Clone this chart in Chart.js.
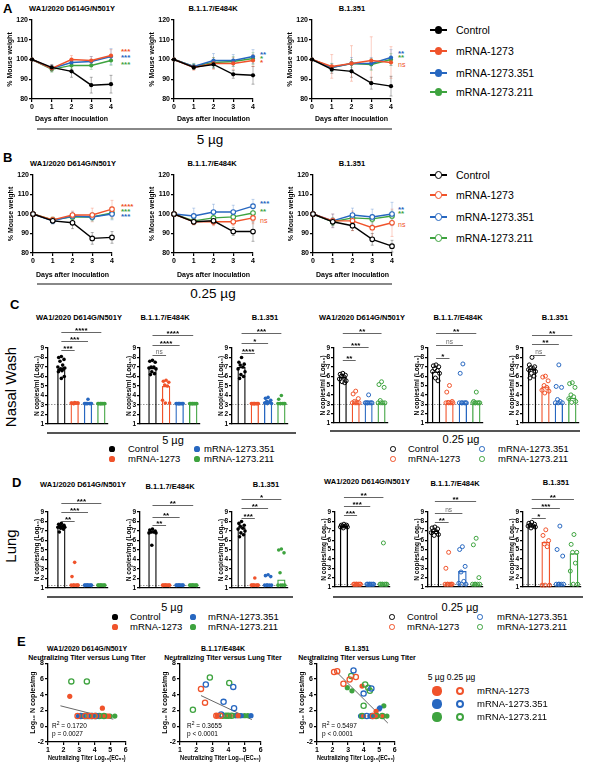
<!DOCTYPE html>
<html>
<head>
<meta charset="utf-8">
<title>Weight loss and viral load after challenge</title>
<script src="https://cdn.jsdelivr.net/npm/chart.js@4.4.0/dist/chart.umd.min.js"></script>
<style>
  html, body { margin: 0; padding: 0; background: #fff; }
  #fig { position: relative; width: 589px; height: 765px; overflow: hidden;
         font-family: 'Liberation Sans', Arial, Helvetica, sans-serif; color: #000; }
  #fig canvas { position: absolute; }
  .t { position: absolute; white-space: nowrap; line-height: 1; }
  .rule { position: absolute; }
  .dot { position: absolute; border-radius: 50%; box-sizing: border-box; }
</style>
</head>
<body>
<div id="fig"></div>
<script>
const FONT = "'Liberation Sans', Arial, Helvetica, sans-serif";
const RED = '#f0532b', BLUE = '#2767c0', GREEN = '#3ea33f', BLACK = '#000000';
const COLORS = [BLACK, RED, BLUE, GREEN];

// ---------- data ----------
const groups = ['Control', 'mRNA-1273', 'mRNA-1273.351', 'mRNA-1273.211'];
const days = [0, 1, 2, 3, 4];
const weightTicks = [80, 90, 100, 110, 120];
const copyTicks = [1, 2, 3, 4, 5, 6, 7, 8, 9];
const titerTicks = [1, 2, 3, 4, 5, 6];
const lungTicks = [-2, 0, 2, 4, 6, 8];

// A: % mouse weight, 5 µg (rows: Control, 1273, 1273.351, 1273.211)
const wA_WA1 = [[100, 96, 94, 87, 87.5], [100, 95.5, 100, 99.5, 102], [100, 95.5, 98.5, 99, 101.5], [100, 95, 97, 97, 99.5]];
const sdA_WA1 = [[0, 1.5, 3, 4, 4.5], [0, 1.5, 2, 2, 3], [0, 1.5, 2, 2.5, 4], [0, 1.5, 1.5, 2, 2.5]];
const wA_B117 = [[100, 96, 97.5, 92.5, 92], [100, 96, 98, 98, 99.5], [100, 96.5, 99.5, 99.5, 101.5], [100, 96.5, 98.5, 99, 100.5]];
const sdA_B117 = [[0, 1, 2, 2, 4.5], [0, 1.5, 3, 3, 3], [0, 1.5, 3.5, 3, 3.5], [0, 1.5, 2.5, 2.5, 3]];
const wA_B1351 = [[100, 95, 94, 88, 86.5], [100, 96.5, 98, 99.5, 98.5], [100, 96, 98, 98, 101], [100, 96, 98, 97.5, 100]];
const sdA_B1351 = [[0, 2, 3, 3, 5], [0, 6, 9, 12, 8], [0, 2, 3, 3, 4], [0, 2, 2, 3, 3]];

// B: % mouse weight, 0.25 µg
const wB_WA1 = [[100, 96.5, 95.5, 87.5, 88], [100, 97, 99.5, 99.5, 102.5], [100, 96.5, 99, 98.5, 100], [100, 97, 98.5, 98.5, 100.5]];
const sdB_WA1 = [[0, 1.5, 3, 3, 3], [0, 1.5, 2, 3.5, 4.5], [0, 1.5, 2, 2, 3], [0, 1.5, 2, 2, 3]];
const wB_B117 = [[100, 96, 96.5, 91, 91], [100, 96, 96, 96, 98], [100, 99, 101, 101, 104], [100, 96.5, 98, 98.5, 100.5]];
const sdB_B117 = [[0, 1.5, 2, 2, 5], [0, 1.5, 2, 2, 3], [0, 4, 4, 3.5, 3.5], [0, 1.5, 2, 2, 2.5]];
const wB_B1351 = [[100, 96, 94, 87, 83.5], [100, 96.5, 96.5, 93, 95.5], [100, 96.5, 99.5, 98.5, 100], [100, 96, 98, 97.5, 99]];
const sdB_B1351 = [[0, 2, 2.5, 3, 3], [0, 3.5, 5, 6, 7], [0, 3.5, 3.5, 4, 6], [0, 2, 2, 2, 2.5]];

// significance vs control, listed for [1273, 1273.351, 1273.211]
const starsA = [['***', '***', '***'], ['*', '**', '*'], ['ns', '**', '**']];
const starsB = [['****', '***', '***'], ['ns', '***', '**'], ['ns', '**', '**']];

// C: nasal wash, log10 N copies/ml — bar heights and individual animals
const cBar_WA1_5 = [6.8, 3.2, 3.15, 3.1];
const cPts_WA1_5 = [[8.1, 8.0, 7.8, 7.6, 7.2, 7.0, 6.9, 6.8, 6.8, 6.7, 6.6, 6.5, 6.0, 5.8], [3.25, 3.2, 3.2, 3.15, 3.2, 3.2, 3.2, 3.15], [3.6, 3.15, 3.15, 3.15, 3.15, 3.15, 3.15, 3.15], [3.15, 3.15, 3.15, 3.15, 3.15, 3.15, 3.15, 3.15]];
const cBar_B117_5 = [6.9, 5.0, 3.1, 3.1];
const cPts_B117_5 = [[7.7, 7.6, 7.5, 7.0, 7.0, 6.9, 6.8, 6.5, 6.3, 6.2], [5.6, 5.5, 5.4, 5.1, 5.0, 3.5, 3.2, 3.2], [3.15, 3.15, 3.15, 3.15, 3.15, 3.15, 3.15, 3.15], [3.15, 3.15, 3.15, 3.15, 3.15, 3.15, 3.15, 3.15]];
const cBar_B1351_5 = [7.0, 3.1, 3.4, 3.2];
const cPts_B1351_5 = [[8.0, 7.5, 7.3, 7.2, 7.0, 6.8, 6.5, 6.2, 6.0, 5.8], [3.15, 3.15, 3.15, 3.15, 3.15, 3.15, 3.15, 3.15], [3.8, 3.7, 3.5, 3.4, 3.3, 3.2, 3.15, 3.15], [4.0, 3.6, 3.15, 3.15, 3.15, 3.15, 3.15, 3.15]];
const cBar_WA1_025 = [5.9, 3.2, 3.1, 3.2];
const cPts_WA1_025 = [[6.3, 6.2, 6.1, 6.0, 5.9, 5.7, 5.5, 5.4, 5.3], [4.4, 4.1, 3.6, 3.3, 3.15, 3.15, 3.15, 3.15], [4.0, 3.15, 3.15, 3.15, 3.15, 3.15, 3.15, 3.15], [5.4, 5.1, 4.8, 3.4, 3.15, 3.15, 3.15, 3.15]];
const cBar_B117_025 = [6.5, 3.1, 3.1, 3.1];
const cPts_B117_025 = [[7.2, 7.1, 7.0, 6.8, 6.6, 6.5, 6.3, 5.8, 5.5], [5.0, 4.3, 3.3, 3.2, 3.15, 3.15, 3.15, 3.15], [7.3, 6.3, 3.15, 3.15, 3.15, 3.15, 3.15, 3.15], [4.3, 3.3, 3.15, 3.15, 3.15, 3.15, 3.15, 3.15]];
const cBar_B1351_025 = [6.8, 4.9, 3.1, 3.7];
const cPts_B1351_025 = [[8.0, 7.2, 7.0, 6.9, 6.8, 6.7, 6.5, 6.3, 6.0, 5.8], [6.0, 5.9, 5.5, 5.0, 4.8, 4.5, 4.4, 4.2], [7.2, 4.9, 4.8, 3.5, 3.3, 3.15, 3.15, 3.15], [5.3, 5.2, 4.8, 4.0, 3.8, 3.6, 3.3, 3.2]];
const starsC = [['***', '***', '****'], ['ns', '****', '****'], ['****', '*', '***'], ['**', '***', '**'], ['*', 'ns', '**'], ['ns', '**', '**']];

// D: lung, log10 N copies/mg
const dBar_WA1_5 = [7.5, 1.3, 1.3, 1.3];
const dPts_WA1_5 = [[7.8, 7.7, 7.6, 7.5, 7.5, 7.4, 7.4, 7.3, 7.2, 6.9], [3.7, 2.2, 1.3, 1.3, 1.3, 1.3, 1.3, 1.3], [1.3, 1.3, 1.3, 1.3, 1.3, 1.3, 1.3, 1.3], [1.3, 1.3, 1.3, 1.3, 1.3, 1.3, 1.3, 1.3]];
const dBar_B117_5 = [6.9, 1.3, 1.3, 1.3];
const dPts_B117_5 = [[7.2, 7.1, 7.0, 6.9, 6.9, 6.8, 6.8, 5.5], [1.3, 1.3, 1.3, 1.3, 1.3, 1.3, 1.3, 1.3], [1.3, 1.3, 1.3, 1.3, 1.3, 1.3, 1.3, 1.3], [1.3, 1.3, 1.3, 1.3, 1.3, 1.3, 1.3, 1.3]];
const dBar_B1351_5 = [7.4, 1.3, 1.3, 1.9];
const dPts_B1351_5 = [[8.0, 7.8, 7.6, 7.5, 7.3, 7.2, 7.0, 6.8, 6.6, 6.4], [2.05, 1.3, 1.3, 1.3, 1.3, 1.3, 1.3, 1.3], [2.4, 2.3, 2.2, 1.3, 1.3, 1.3, 1.3, 1.3], [5.1, 5.0, 4.7, 2.6, 1.3, 1.3, 1.3, 1.3]];
const dBar_WA1_025 = [7.5, 1.3, 1.3, 1.3];
const dPts_WA1_025 = [[7.7, 7.6, 7.6, 7.5, 7.5, 7.4, 7.4, 7.3], [1.3, 1.3, 1.3, 1.3, 1.3, 1.3, 1.3, 1.3], [1.3, 1.3, 1.3, 1.3, 1.3, 1.3, 1.3, 1.3], [5.7, 1.3, 1.3, 1.3, 1.3, 1.3, 1.3, 1.3]];
const dBar_B117_025 = [7.0, 1.4, 2.7, 1.3];
const dPts_B117_025 = [[7.4, 7.3, 7.2, 7.0, 6.9, 6.8, 6.6, 6.5], [4.7, 3.0, 1.3, 1.3, 1.3, 1.3, 1.3, 1.3], [5.3, 5.0, 3.2, 2.6, 1.6, 1.4, 1.3, 1.3], [6.2, 5.5, 2.0, 1.3, 1.3, 1.3, 1.3, 1.3]];
const dBar_B1351_025 = [7.6, 5.8, 1.3, 4.6];
const dPts_B1351_025 = [[7.9, 7.8, 7.7, 7.6, 7.5, 7.5, 7.4, 7.3], [7.1, 6.5, 5.95, 5.6, 5.3, 1.2, 1.2, 1.2], [7.5, 5.0, 4.3, 1.3, 1.3, 1.3, 1.3, 1.3], [6.6, 5.55, 4.7, 4.7, 3.55, 2.7, 1.3, 1.3]];
const starsD = [['**', '***', '***'], ['**', '**', '**'], ['***', '**', '*'], ['***', '***', '**'], ['**', 'ns', '**'], ['*', '***', '**']];

// E: neutralizing titer log10(EC50) vs lung titer, [x, y]; rows 1273, 1273.351, 1273.211
const eWA1_5 = [
  [[2.4, 3.8], [4.5, 2.3], [4.3, 1.3], [4.6, 1.3], [4.8, 1.3], [4.9, 1.3]],
  [[2.95, 1.3], [3.05, 1.3], [3.15, 1.3], [3.25, 1.3], [4.2, 1.3], [4.4, 1.3]],
  [[3.9, 1.3], [4.7, 1.3], [5.0, 1.3], [5.3, 1.3]]];
const eWA1_025 = [
  [[2.9, 1.3], [3.4, 1.3], [3.7, 1.3], [4.0, 1.3]],
  [[3.1, 1.3], [3.5, 1.3], [3.8, 1.3], [4.1, 1.3]],
  [[2.5, 5.7], [3.5, 5.7], [3.35, 1.3], [3.6, 1.3], [3.85, 1.3], [4.05, 1.3], [4.3, 1.3], [4.6, 1.3]]];
const eWA1_fit = [[1.8, 2.6], [5.2, 0.9]];
const eB117_5 = [
  [[3.3, 1.35], [3.9, 1.35], [4.1, 1.35], [4.6, 1.35]],
  [[4.5, 1.35], [4.8, 1.35], [5.4, 1.35]],
  [[4.4, 1.35], [4.7, 1.35], [5.0, 1.35], [5.2, 1.35]]];
const eB117_025 = [
  [[2.3, 4.75], [2.55, 3.0], [3.25, 1.35], [3.5, 1.35]],
  [[2.6, 5.3], [4.3, 5.0], [3.7, 3.1], [4.35, 2.3], [3.55, 1.5]],
  [[2.85, 6.2], [4.05, 5.5], [1.8, 2.1], [3.65, 1.35], [3.85, 1.35], [4.0, 1.35], [4.2, 1.35]]];
const eB117_fit = [[2.3, 3.9], [5.45, 0.85]];
const eB1351_5 = [
  [[3.9, 5.1], [4.8, 1.9], [4.0, 1.3], [4.9, 1.3], [5.25, 1.3]],
  [[5.05, 2.35], [5.0, 2.2], [3.8, 1.3], [4.4, 1.3], [4.7, 1.3]],
  [[2.95, 4.9], [3.25, 4.5], [5.3, 2.6], [4.5, 1.3], [5.5, 1.3]]];
const eB1351_025 = [
  [[2.1, 6.9], [2.3, 7.0], [2.7, 5.4], [3.1, 5.95], [3.5, 6.25], [4.6, 1.3]],
  [[3.35, 7.1], [4.5, 4.8], [4.0, 4.15], [4.2, 1.3], [4.55, 1.3]],
  [[3.2, 6.4], [4.1, 5.3], [4.3, 4.9], [4.4, 4.5], [4.0, 2.6], [3.9, 1.3], [4.8, 1.3], [5.2, 1.3]]];
const eB1351_fit = [[2.2, 7.0], [5.56, 0.4]];
const fitStats = [['0.1720', 'p = 0.0027'], ['0.3655', 'p < 0.0001'], ['0.5497', 'p < 0.0001']];

// ---------- helpers ----------
const fig = document.getElementById('fig');
// horizontal spread of animals inside a bar (layout only)
const spread = [0, -0.2, 0.2, -0.1, 0.1, -0.26, 0.26, -0.05, 0.15, -0.15, 0.05, -0.22, 0.22, 0.0];

function fade(hex, a) {
  const n = parseInt(hex.slice(1), 16);
  return `rgba(${(n >> 16) & 255},${(n >> 8) & 255},${n & 255},${a})`;
}

function put(html, x, y, o = {}) {
  const d = document.createElement('div');
  d.className = 't';
  d.innerHTML = html;
  d.style.left = x + 'px';
  d.style.top = y + 'px';
  d.style.fontSize = (o.size || 7) + 'px';
  if (o.bold) d.style.fontWeight = 'bold';
  if (o.color) d.style.color = o.color;
  const ax = o.align === 'left' ? '0' : '-50%';
  d.style.transform = `translate(${ax}, -50%)` + (o.rot ? ' rotate(-90deg)' : '');
  fig.appendChild(d);
}

function rule(x1, x2, y, w, color) {
  const d = document.createElement('div');
  d.className = 'rule';
  Object.assign(d.style, { left: x1 + 'px', top: (y - w / 2) + 'px', width: (x2 - x1) + 'px', height: w + 'px', background: color });
  fig.appendChild(d);
}

function marker(x, y, r, color, open, bw) {
  const d = document.createElement('div');
  d.className = 'dot';
  Object.assign(d.style, { left: (x - r) + 'px', top: (y - r) + 'px', width: 2 * r + 'px', height: 2 * r + 'px',
    background: open ? '#fff' : color, border: open ? `${bw}px solid ${color}` : 'none' });
  fig.appendChild(d);
}

// box = [left, top, right, bottom] of the plot area in page pixels
function mount(box, m) {
  const cv = document.createElement('canvas');
  const w = box[2] - box[0] + m.l + m.r, h = box[3] - box[1] + m.t + m.b;
  cv.width = w; cv.height = h;
  Object.assign(cv.style, { left: (box[0] - m.l) + 'px', top: (box[1] - m.t) + 'px', width: w + 'px', height: h + 'px' });
  fig.appendChild(cv);
  return cv;
}

function axis(min, max, ticks, size, title, dim, o = {}) {
  return {
    type: 'linear', min, max,
    afterBuildTicks: s => { s.ticks = ticks.map(v => ({ value: v })); },
    afterFit: s => {
      if (dim === 'w') s.width = size; else s.height = size;
      s.paddingLeft = s.paddingRight = s.paddingTop = s.paddingBottom = 0;
    },
    border: { display: true, color: '#000', width: 1.3 },
    grid: { display: ticks.length > 0, drawOnChartArea: false, drawTicks: true, tickLength: 3, color: '#000', lineWidth: 1.2 },
    ticks: { display: ticks.length > 0, color: '#000', padding: 1, autoSkip: false, maxRotation: 0,
             font: { family: FONT, size: o.tickSize || 7, weight: 'bold' } },
    title: { display: !!title, text: title, color: '#000', padding: 0,
             font: { family: FONT, size: o.titleSize || 7, weight: 'bold' } }
  };
}

function baseOptions(m, scales) {
  return {
    responsive: false, animation: false, devicePixelRatio: 1, events: [],
    layout: { padding: { left: 0, top: m.t, right: m.r, bottom: 0 } },
    plugins: { legend: { display: false }, tooltip: { enabled: false } },
    scales
  };
}

const errorBars = {
  id: 'errorBars',
  beforeDatasetsDraw(chart) {
    const { ctx } = chart, y = chart.scales.y;
    chart.data.datasets.forEach((ds, i) => {
      if (!ds.sd) return;
      const meta = chart.getDatasetMeta(i);
      ctx.save();
      ctx.strokeStyle = ds.errColor;
      ctx.lineWidth = 1;
      meta.data.forEach((pt, j) => {
        const e = ds.sd[j];
        if (!e) return;
        const v = ds.data[j].y;
        const y1 = y.getPixelForValue(v + e), y2 = y.getPixelForValue(v - e);
        ctx.beginPath();
        ctx.moveTo(pt.x, y1); ctx.lineTo(pt.x, y2);
        ctx.moveTo(pt.x - 1.5, y1); ctx.lineTo(pt.x + 1.5, y1);
        ctx.moveTo(pt.x - 1.5, y2); ctx.lineTo(pt.x + 1.5, y2);
        ctx.stroke();
      });
      ctx.restore();
    });
  }
};

function lodLine(level) {
  return {
    id: 'lod',
    beforeDatasetsDraw(chart) {
      const { ctx, chartArea } = chart;
      const yy = Math.round(chart.scales.y.getPixelForValue(level)) + 0.5;
      ctx.save();
      ctx.strokeStyle = '#777';
      ctx.lineWidth = 0.8;
      ctx.setLineDash([1.5, 1.5]);
      ctx.beginPath();
      ctx.moveTo(chartArea.left, yy); ctx.lineTo(chartArea.right, yy);
      ctx.stroke();
      ctx.restore();
    }
  };
}

function sigBars(labels, levels) {
  return {
    id: 'sig',
    afterDraw(chart) {
      const { ctx } = chart, { x, y } = chart.scales;
      ctx.save();
      labels.forEach((lab, k) => {
        const x0 = x.getPixelForValue(0), x1 = x.getPixelForValue(k + 1);
        const yy = Math.round(y.getPixelForValue(levels[k])) + 0.5;
        ctx.strokeStyle = '#666';
        ctx.lineWidth = 1;
        ctx.beginPath(); ctx.moveTo(x0, yy); ctx.lineTo(x1, yy); ctx.stroke();
        const ns = lab === 'ns';
        ctx.fillStyle = ns ? '#666' : '#000';
        ctx.font = ns ? `6.5px ${FONT}` : `bold 8px ${FONT}`;
        ctx.textAlign = 'center';
        ctx.textBaseline = 'alphabetic';
        ctx.fillText(lab, (x0 + x1) / 2, yy - (ns ? 1.5 : 0));
      });
      ctx.restore();
    }
  };
}

function lineChart(box, series, sds, open, mb) {
  const m = { l: 26, t: 6, r: 6, b: mb };
  const cv = mount(box, m);
  const datasets = series.map((vals, g) => ({
    data: vals.map((v, j) => ({ x: days[j], y: v })),
    sd: sds[g],
    errColor: fade(COLORS[g], g === 0 ? 0.3 : 0.28),
    borderColor: COLORS[g],
    backgroundColor: COLORS[g],
    pointBackgroundColor: open ? '#fff' : COLORS[g],
    pointBorderColor: COLORS[g],
    pointBorderWidth: open ? 1.1 : 0,
    pointRadius: open ? 2.3 : 2.1,
    borderWidth: 1.4,
    tension: 0,
    clip: false
  }));
  new Chart(cv, {
    type: 'line',
    data: { datasets },
    options: baseOptions(m, {
      x: axis(0, 4, days, m.b, 'Days after inoculation', 'h'),
      y: axis(80, 120, weightTicks, m.l, '% Mouse weight', 'w')
    }),
    plugins: [errorBars]
  });
}

function barChart(box, xmin, bars, pts, open, labels, levels, unit, lod) {
  const m = { l: 15, t: 26, r: 4, b: 2 };
  const cv = mount(box, m);
  const datasets = [{
    type: 'bar', order: 2, base: 1,
    data: bars.map((v, i) => ({ x: i, y: v })),
    backgroundColor: 'rgba(255,255,255,0)',
    borderColor: COLORS, borderWidth: 1.3,
    barPercentage: 0.62, categoryPercentage: 1
  }];
  pts.forEach((vals, g) => datasets.push({
    type: 'scatter', order: 1, clip: false,
    data: vals.map((v, k) => ({ x: g + spread[k % spread.length], y: v })),
    pointRadius: open ? 2 : 1.8,
    pointBackgroundColor: open ? 'rgba(255,255,255,0)' : COLORS[g],
    pointBorderColor: COLORS[g],
    pointBorderWidth: open ? 1 : 0
  }));
  new Chart(cv, {
    type: 'bar',
    data: { datasets },
    options: baseOptions(m, {
      x: axis(xmin, 3.5, [], m.b, '', 'h'),
      y: axis(1, 9, copyTicks, m.l, unit, 'w', { tickSize: 6.5, titleSize: 6.5 })
    }),
    plugins: [lodLine(lod), sigBars(labels, levels)]
  });
}

function pointSet(pts, color, open, order) {
  return {
    type: 'scatter', order, clip: false,
    data: pts.map(([x, y]) => ({ x, y })),
    pointRadius: 2.6,
    pointBackgroundColor: open ? 'rgba(255,255,255,0)' : color,
    pointBorderColor: color,
    pointBorderWidth: open ? 1.3 : 0
  };
}

function titerChart(box, filled, open, fit) {
  const m = { l: 19, t: 4, r: 4, b: 20 };
  const cv = mount(box, m);
  const datasets = [{
    type: 'line', order: 3, clip: false,
    data: fit.map(([x, y]) => ({ x, y })),
    borderColor: '#666', borderWidth: 1, pointRadius: 0
  }];
  filled.forEach((p, g) => datasets.push(pointSet(p, COLORS[g + 1], false, 2)));
  open.forEach((p, g) => datasets.push(pointSet(p, COLORS[g + 1], true, 1)));
  new Chart(cv, {
    type: 'scatter',
    data: { datasets },
    options: baseOptions(m, {
      x: axis(1, 6, titerTicks, m.b, 'Neutralizing Titer Log\u2081\u2080(EC\u2085\u2080)', 'h'),
      y: axis(-2, 8, lungTicks, m.l, 'Log\u2081\u2080 N copies/mg', 'w')
    })
  });
}

function weightLegend(ys, open) {
  groups.forEach((g, i) => {
    rule(430, 447, ys[i], 1.6, COLORS[i]);
    marker(438.5, ys[i], 3.6, COLORS[i], open, 1.5);
    put(g, 456, ys[i], { size: 10.5, align: 'left' });
  });
}

function dotLegend(y1, y2, dotX, textX, blueX, blueTextX, open) {
  const rows = [[dotX, textX, y1], [dotX, textX, y2], [blueX, blueTextX, y1], [blueX, blueTextX, y2]];
  groups.forEach((g, i) => {
    const [mx, tx, y] = rows[i];
    marker(mx, y, open ? 2.8 : 2.6, COLORS[i], open, 1.6);
    put(g, tx, y, { size: 9.5, align: 'left' });
  });
}

// ---------- panel A ----------
put('A', 3, 8, { size: 13, bold: true, align: 'left' });
put('WA1/2020 D614G/N501Y', 72, 9, { size: 7.5, bold: true });
put('B.1.1.7/E484K', 213, 9, { size: 7.5, bold: true });
put('B.1.351', 352, 9, { size: 7.5, bold: true });
lineChart([32, 20, 111, 99], wA_WA1, sdA_WA1, false, 24);
lineChart([174, 20, 253, 99], wA_B117, sdA_B117, false, 24);
lineChart([312, 20, 391, 99], wA_B1351, sdA_B1351, false, 24);
const starRowsA = [[121, [51, 57, 64]], [260, [62, 54, 58]], [398, [63, 53, 57]]];
starRowsA.forEach(([x, ys], c) => starsA[c].forEach((s, k) =>
  put(s, x, ys[k] + 1, { size: s === 'ns' ? 7 : 8, bold: s !== 'ns', color: COLORS[k + 1], align: 'left' })));
weightLegend([30, 51, 73, 92], false);
rule(37, 392, 129, 2, '#888');
put('5 µg', 210, 140, { size: 13.5 });

// ---------- panel B ----------
put('B', 3, 157, { size: 13, bold: true, align: 'left' });
put('WA1/2020 D614G/N501Y', 73, 164, { size: 7.5, bold: true });
put('B.1.1.7/E484K', 212, 164, { size: 7.5, bold: true });
put('B.1.351', 352, 164, { size: 7.5, bold: true });
lineChart([33, 175, 112, 253], wB_WA1, sdB_WA1, true, 26);
lineChart([174, 175, 253, 253], wB_B117, sdB_B117, true, 26);
lineChart([313, 175, 392, 253], wB_B1351, sdB_B1351, true, 26);
const starRowsB = [[121, [206, 216, 211]], [260, [219, 203, 211]], [398, [223, 209, 213]]];
starRowsB.forEach(([x, ys], c) => starsB[c].forEach((s, k) =>
  put(s, x, ys[k] + 1, { size: s === 'ns' ? 7 : 8, bold: s !== 'ns', color: COLORS[k + 1], align: 'left' })));
weightLegend([175, 195, 217, 238], true);
rule(37, 392, 284, 2, '#888');
put('0.25 µg', 213, 294, { size: 13.5 });

// ---------- panel C ----------
put('C', 10, 304, { size: 13, bold: true, align: 'left' });
put('Nasal Wash', 10, 387, { size: 15, rot: true });
const nasal = 'N copies/ml (Log\u2081\u2080)';
[[79, 'WA1/2020 D614G/N501Y'], [165, 'B.1.1.7/E484K'], [265, 'B.1.351'],
 [362, 'WA1/2020 D614G/N501Y'], [458, 'B.1.1.7/E484K'], [555, 'B.1.351']]
  .forEach(([x, s]) => put(s, x, 318, { size: 7.5, bold: true }));
barChart([48, 348, 108, 426], -1.0, cBar_WA1_5, cPts_WA1_5, false, starsC[0], [8.79, 9.72, 10.64], nasal, 3.08);
barChart([140, 348, 200, 426], -0.92, cBar_B117_5, cPts_B117_5, false, starsC[1], [8.28, 9.31, 10.33], nasal, 3.08);
barChart([232, 348, 288, 426], -0.72, cBar_B1351_5, cPts_B1351_5, false, starsC[2], [8.49, 9.51, 10.54], nasal, 3.08);
barChart([334, 348, 389, 426], -0.68, cBar_WA1_025, cPts_WA1_025, true, starsC[3], [7.67, 9.1, 10.64], nasal, 3.08);
barChart([428, 348, 484, 426], -0.6, cBar_B117_025, cPts_B117_025, true, starsC[4], [7.97, 9.31, 10.64], nasal, 3.08);
barChart([523, 348, 580, 426], -0.67, cBar_B1351_025, cPts_B1351_025, true, starsC[5], [8.28, 9.41, 10.44], nasal, 3.08);
rule(47, 296, 433, 1.5, '#555');
put('5 µg', 173, 440, { size: 11 });
rule(330, 580, 431, 1.5, '#555');
put('0.25 µg', 461, 439, { size: 11 });
dotLegend(449, 459, 112, 128, 197, 204, false);
dotLegend(449, 459, 393, 408, 482, 498, true);

// ---------- panel D ----------
put('D', 12, 482, { size: 13, bold: true, align: 'left' });
put('Lung', 10, 546, { size: 15, rot: true });
const lung = 'N copies/mg (Log\u2081\u2080)';
[[83, 485, 'WA1/2020 D614G/N501Y'], [170, 487, 'B.1.1.7/E484K'], [266, 485, 'B.1.351'],
 [367, 482, 'WA1/2020 D614G/N501Y'], [455, 484, 'B.1.1.7/E484K'], [556, 483, 'B.1.351']]
  .forEach(([x, y, s]) => put(s, x, y, { size: 7.5, bold: true }));
barChart([48, 512, 108, 590], -1.0, dBar_WA1_5, dPts_WA1_5, false, starsD[0], [8.08, 9.0, 9.92], lung, 1.28);
barChart([140, 512, 200, 590], -0.92, dBar_B117_5, dPts_B117_5, false, starsD[1], [7.67, 8.49, 9.72], lung, 1.28);
barChart([232, 512, 288, 590], -0.72, dBar_B1351_5, dPts_B1351_5, false, starsD[2], [8.38, 9.41, 10.33], lung, 1.28);
barChart([335, 512, 391, 590], -0.68, dBar_WA1_025, dPts_WA1_025, true, starsD[3], [8.69, 9.62, 10.64], lung, 1.28);
barChart([428, 512, 484, 590], -0.5, dBar_B117_025, dPts_B117_025, true, starsD[4], [7.97, 8.9, 10.13], lung, 1.28);
barChart([523, 512, 582, 590], -0.62, dBar_B1351_025, dPts_B1351_025, true, starsD[5], [8.38, 9.41, 10.44], lung, 1.28);
rule(47, 293, 597, 1.5, '#555');
put('5 µg', 172, 607, { size: 11 });
rule(333, 583, 597, 1.5, '#555');
put('0.25 µg', 460, 607, { size: 11 });
dotLegend(617, 627, 115, 130, 193, 208, false);
dotLegend(617, 627, 392, 407, 480, 497, true);

// ---------- panel E ----------
put('E', 17, 641, { size: 13, bold: true, align: 'left' });
[[87, 'WA1/2020 D614G/N501Y'], [223, 'B.1.17/E484K'], [357, 'B.1.351']].forEach(([x, s]) => {
  put(s, x, 648, { size: 7, bold: true });
  put('Neutralizing Titer versus Lung Titer', x, 657, { size: 7, bold: true });
});
titerChart([48, 662, 127, 742], eWA1_5, eWA1_025, eWA1_fit);
titerChart([180, 662, 262, 742], eB117_5, eB117_025, eB117_fit);
titerChart([317, 662, 396, 742], eB1351_5, eB1351_025, eB1351_fit);
[52, 187, 322].forEach((x, i) => {
  put('R<sup style="font-size:5px">2</sup> = ' + fitStats[i][0], x, 725, { size: 6.5, align: 'left' });
  put(fitStats[i][1], x, 734, { size: 6.5, align: 'left' });
});
put('5 µg', 436, 677, { size: 8.5 });
put('0.25 µg', 461, 677, { size: 8.5 });
[691, 704, 717].forEach((y, k) => {
  marker(437, y, 4.6, COLORS[k + 1], false, 0);
  marker(460, y, 4.4, COLORS[k + 1], true, 2);
  put(groups[k + 1], 477, y, { size: 9.5, align: 'left' });
});
</script>
</body>
</html>
